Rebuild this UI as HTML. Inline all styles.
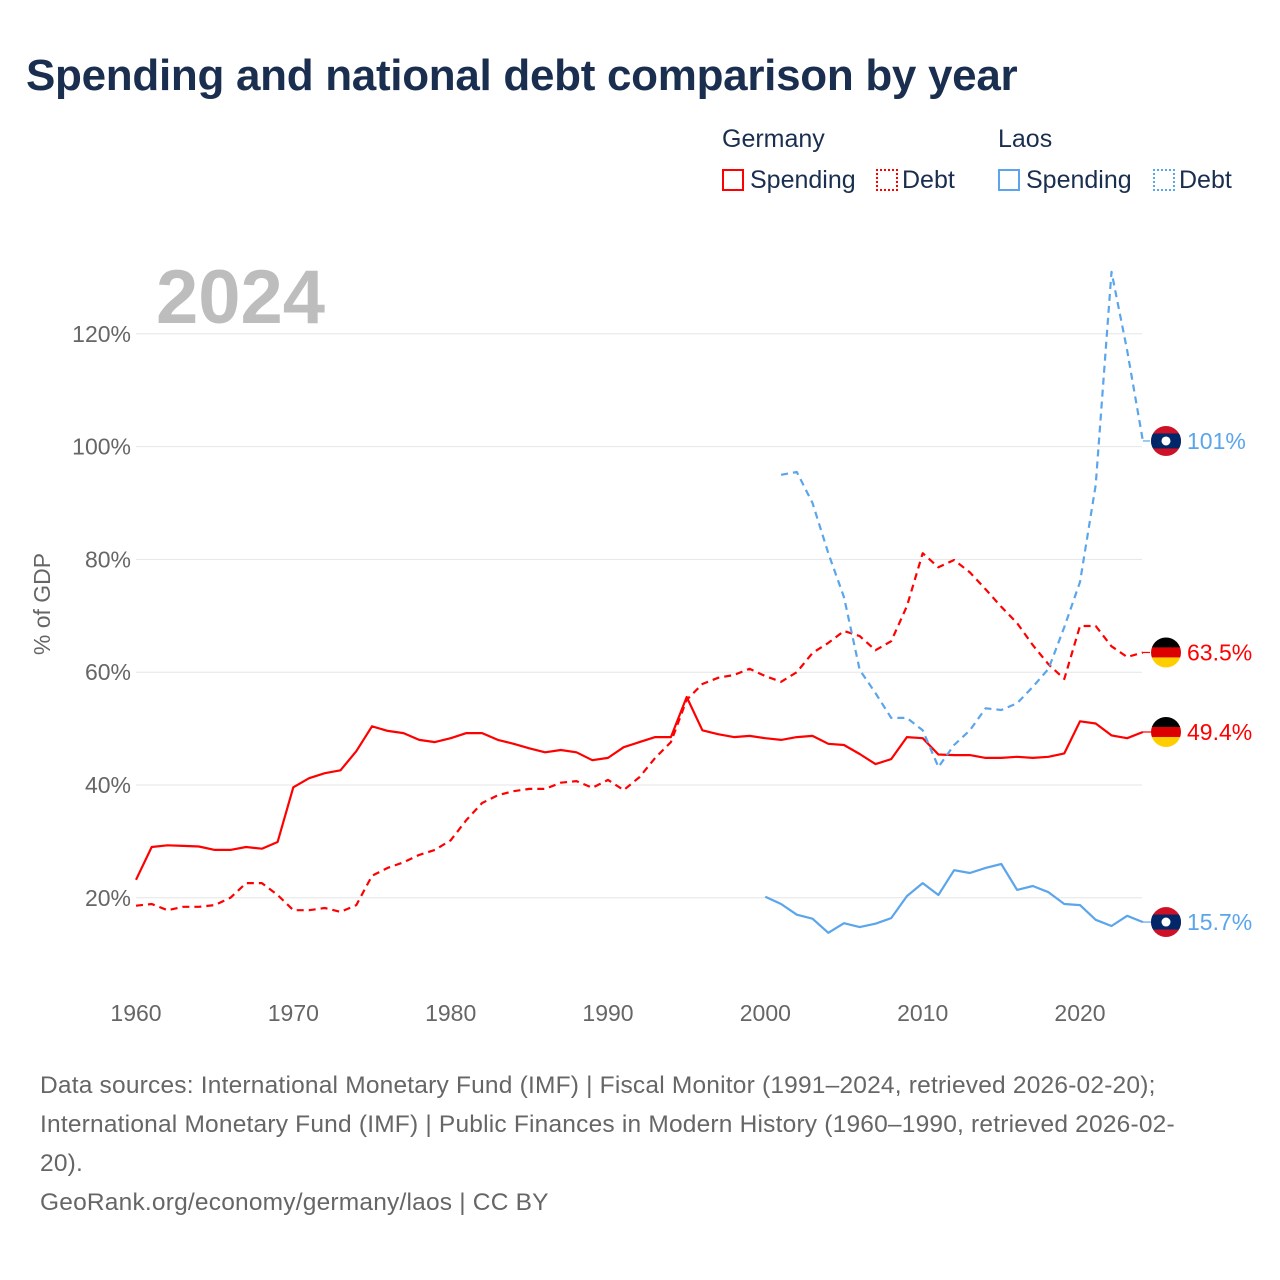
<!DOCTYPE html>
<html><head><meta charset="utf-8"><style>
body{margin:0;background:#fff;font-family:"Liberation Sans",sans-serif;}
#wrap{position:relative;width:1280px;height:1280px;overflow:hidden;}
h1{position:absolute;left:26px;top:51px;margin:0;font-size:44px;font-weight:bold;color:#1a2e4f;letter-spacing:-0.3px;}
.t{position:absolute;color:#1a2e4f;font-size:25px;}
.sw{display:inline-block;width:22px;height:22px;box-sizing:border-box;vertical-align:-3px;margin-right:6px;}
.src{position:absolute;left:40px;top:1066px;width:1220px;font-size:24.5px;line-height:39px;color:#666;letter-spacing:0.2px;white-space:nowrap;}
</style></head><body><div id="wrap">
<h1>Spending and national debt comparison by year</h1>
<div class="t" style="left:722px;top:125px">Germany</div>
<div class="t" style="left:998px;top:125px">Laos</div>
<div class="t" style="left:722px;top:166px"><span class="sw" style="border:2px solid #f00"></span>Spending</div>
<div class="t" style="left:876px;top:166px"><span class="sw" style="border:2px dotted #f00;margin-right:4px"></span>Debt</div>
<div class="t" style="left:998px;top:166px"><span class="sw" style="border:2px solid #5aa5ec"></span>Spending</div>
<div class="t" style="left:1153px;top:166px"><span class="sw" style="border:2px dotted #5aa5ec;margin-right:4px"></span>Debt</div>
<svg id="chart" width="1280" height="1280" style="position:absolute;left:0;top:0"></svg>
<div class="src">Data sources: International Monetary Fund (IMF) | Fiscal Monitor (1991–2024, retrieved 2026-02-20);<br>International Monetary Fund (IMF) | Public Finances in Modern History (1960–1990, retrieved 2026-02-<br>20).<br>GeoRank.org/economy/germany/laos | CC BY</div>
</div>
<script>
const yTicks=[20,40,60,80,100,120];
const xTicks=[1960,1970,1980,1990,2000,2010,2020];
const deSpendStart=1960;
const deSpending=[23.2,29,29.3,29.2,29.1,28.5,28.5,29,28.7,29.9,39.6,41.2,42.1,42.6,46,50.4,49.6,49.2,48,47.6,48.3,49.2,49.2,48,47.3,46.5,45.8,46.2,45.8,44.4,44.8,46.7,47.6,48.5,48.5,55.6,49.7,49,48.5,48.7,48.3,48,48.5,48.7,47.3,47.1,45.5,43.7,44.6,48.5,48.3,45.4,45.3,45.3,44.8,44.8,45,44.8,45,45.6,51.3,50.9,48.8,48.3,49.4];
const deDebt=[18.6,18.9,17.8,18.4,18.4,18.7,20,22.6,22.6,20.5,17.8,17.8,18.2,17.5,18.7,23.9,25.3,26.3,27.6,28.5,30.2,33.8,36.8,38.2,38.9,39.3,39.3,40.4,40.7,39.5,40.9,39.1,41.4,44.8,47.6,55.1,57.9,59,59.5,60.6,59.3,58.3,60,63.4,65.2,67.3,66.4,63.9,65.5,71.7,81.1,78.6,79.9,77.7,74.7,71.6,68.7,64.8,61.4,58.8,68.2,68.2,64.6,62.7,63.5];
const laSpendStart=2000;
const laSpending=[20.2,18.9,17,16.3,13.8,15.5,14.8,15.4,16.4,20.3,22.6,20.5,24.9,24.4,25.3,26,21.4,22.1,21,18.9,18.7,16.1,15,16.8,15.7];
const laDebtStart=2001;
const laDebt=[95,95.5,90,81.1,73.3,60.4,56.3,51.9,51.9,49.7,43.2,47.1,49.7,53.6,53.3,54.5,57.4,60.6,68,76,93.2,131,117,101];
const endLabels=["101%","63.5%","49.4%","15.7%"];

const X=y=>136+(y-1960)*944/60;
const Y=v=>1010.6-v*5.64;
const svg=document.getElementById('chart');
const NS='http://www.w3.org/2000/svg';
function mk(t,a,p){const e=document.createElementNS(NS,t);for(const k in a)e.setAttribute(k,a[k]);(p||svg).appendChild(e);return e;}
yTicks.forEach(v=>{
  const l=mk('line',{x1:136,x2:1142,y1:Y(v),y2:Y(v),stroke:'#e6e6e6','stroke-width':1});
  
  
  const t=mk('text',{x:131,y:Y(v)+8,'text-anchor':'end','font-size':23,fill:'#666','font-family':'Liberation Sans'});
  t.textContent=v+'%';
  
  
});
xTicks.forEach(y=>{
  const t=mk('text',{x:X(y),y:1021,'text-anchor':'middle','font-size':23,fill:'#666','font-family':'Liberation Sans'});
  t.textContent=y;
  
  
});
const yt=mk('text',{x:0,y:0,transform:'translate(50,604) rotate(-90)','text-anchor':'middle','font-size':23,fill:'#666','font-family':'Liberation Sans'});
yt.textContent='% of GDP';


const yr=mk('text',{x:156,y:323,'font-size':76,'font-weight':'bold',fill:'#bdbdbd','font-family':'Liberation Sans'});
yr.textContent='2024';


function line(arr,start,color,dash,name){
  const d=arr.map((v,i)=>(i?'L':'M')+X(start+i).toFixed(1)+','+Y(v).toFixed(1)).join('');
  const p=mk('path',{d:d,fill:'none',stroke:color,'stroke-width':2.2,'stroke-dasharray':dash||'none','stroke-linejoin':'round'});
  
  
  const last=arr[arr.length-1];
  mk('line',{x1:X(2024),x2:1152,y1:Y(last),y2:Y(last),stroke:color,'stroke-width':1.2,'stroke-dasharray':dash||'none'});
}
line(deSpending,deSpendStart,'#ff0000','','germany-spending-line');
line(deDebt,deSpendStart,'#ff0000','7,5','germany-debt-line');
line(laSpending,laSpendStart,'#5aa5ec','','laos-spending-line');
line(laDebt,laDebtStart,'#5aa5ec','7,5','laos-debt-line');
function flag(v,country,label,color){
  const cy=Y(v),cx=1166;
  const g=mk('g',{});
  
  
  const cp=mk('clipPath',{id:'c'+country+v},g);mk('circle',{cx:cx,cy:cy,r:15},cp);
  const cg=mk('g',{'clip-path':'url(#c'+country+v+')'},g);
  if(country==='germany'){
    mk('rect',{x:cx-15,y:cy-15,width:30,height:10,fill:'#000'},cg);
    mk('rect',{x:cx-15,y:cy-5,width:30,height:10,fill:'#dd0000'},cg);
    mk('rect',{x:cx-15,y:cy+5,width:30,height:10,fill:'#ffce00'},cg);
  }else{
    mk('rect',{x:cx-15,y:cy-15,width:30,height:30,fill:'#ce1126'},cg);
    mk('rect',{x:cx-15,y:cy-7.5,width:30,height:15,fill:'#002868'},cg);
    mk('circle',{cx:cx,cy:cy,r:4.5,fill:'#fff'},cg);
  }
  const t=mk('text',{x:1187,y:cy+8,'font-size':23,fill:color,'font-family':'Liberation Sans'});
  t.textContent=label;
  
  
}
flag(laDebt[laDebt.length-1],'laos',endLabels[0],'#5aa5ec');
flag(deDebt[deDebt.length-1],'germany',endLabels[1],'#ff0000');
flag(deSpending[deSpending.length-1],'germany',endLabels[2],'#ff0000');
flag(laSpending[laSpending.length-1],'laos',endLabels[3],'#5aa5ec');
</script></body></html>
